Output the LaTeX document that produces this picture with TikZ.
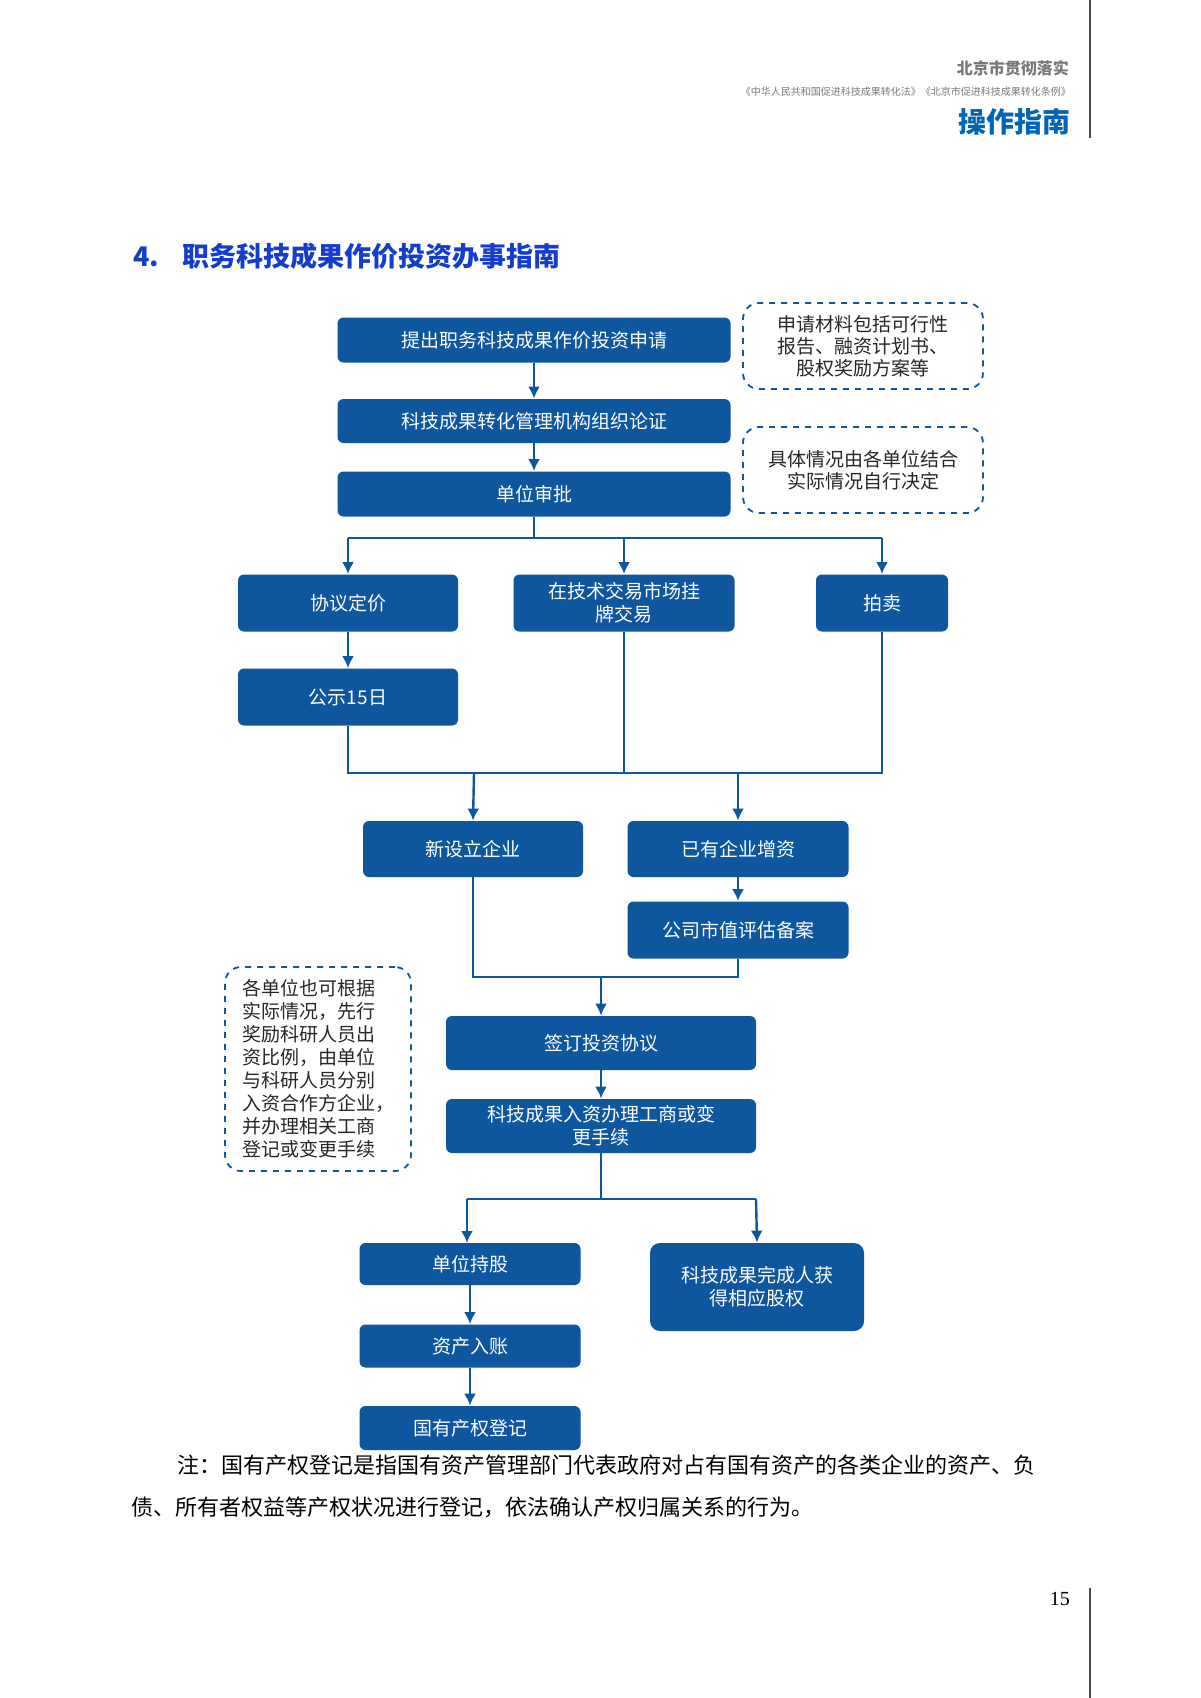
\documentclass[tikz,border=0pt]{standalone}
\usepackage{fontspec}
\setmainfont{Noto Sans CJK SC}
\newfontfamily\serifnum{Liberation Serif}
\usetikzlibrary{arrows.meta}
\definecolor{boxblue}{RGB}{14,86,158}
\definecolor{titleblue}{RGB}{20,60,205}
\definecolor{headblue}{RGB}{0,100,185}
\definecolor{headgrey}{RGB}{120,120,120}
\begin{document}
\begin{tikzpicture}[x=0.5pt,y=-0.5pt,
  bx/.style={fill=boxblue,draw=none,rounded corners=3pt,text=white,font=\fontsize{9.5}{11.5}\selectfont,align=center,inner sep=0pt},
  nt/.style={draw=boxblue,dashed,line width=0.9pt,rounded corners=8pt,font=\fontsize{9.5}{11}\selectfont,text=black!85,align=center,inner sep=0pt},
  ln/.style={draw=boxblue,line width=1.2pt},
  ar/.style={ln,-{Latex[length=6pt,width=6pt]}}]
\useasboundingbox (0,0) rectangle (1200,1698);
% header
\draw[black!70,line width=0.6pt] (1090,0) -- (1090,138);
\draw[black!70,line width=0.6pt] (1090,1588) -- (1090,1698);
\node[anchor=east,text=headgrey,font=\bfseries\fontsize{8}{9}\selectfont] (h1) at (1076,68) {北京市贯彻落实};
\node[anchor=east,text=headgrey,font=\fontsize{5}{6}\selectfont] (h2) at (1078,92) {《中华人民共和国促进科技成果转化法》《北京市促进科技成果转化条例》};
\node[anchor=east,text=headblue,font=\bfseries\fontsize{14}{16}\selectfont] (h3) at (1078,122) {操作指南};
\node[anchor=east,font=\serifnum\fontsize{10}{12}\selectfont] (pg) at (1077,1599) {15};
% title
\node[anchor=west,text=titleblue,font=\bfseries\fontsize{13.5}{16}\selectfont] (title) at (126,256) {4.\hspace{12pt}职务科技成果作价投资办事指南};
% boxes
\node[bx,minimum width=196.5pt,minimum height=22.5pt] (b1) at (534,340) {提出职务科技成果作价投资申请};
\node[bx,minimum width=196.5pt,minimum height=22pt] (b2) at (534,421) {科技成果转化管理机构组织论证};
\node[bx,minimum width=196.5pt,minimum height=22.5pt] (b3) at (534,494) {单位审批};
\node[nt,minimum width=120pt,minimum height=43pt] (n1) at (863,346) {申请材料包括可行性\\报告、融资计划书、\\股权奖励方案等};
\node[nt,minimum width=120pt,minimum height=43pt] (n2) at (863,470) {具体情况由各单位结合\\实际情况自行决定};
\node[bx,minimum width=110pt,minimum height=28.5pt] (c1) at (348,603) {协议定价};
\node[bx,minimum width=110.5pt,minimum height=28.5pt] (c2) at (624,603) {在技术交易市场挂\\牌交易};
\node[bx,minimum width=66pt,minimum height=28.5pt] (c3) at (882,603) {拍卖};
\node[bx,minimum width=110pt,minimum height=28.5pt] (c4) at (348,697) {公示15日};
\node[bx,minimum width=110pt,minimum height=28pt] (d1) at (473,849) {新设立企业};
\node[bx,minimum width=110.5pt,minimum height=28pt] (d2) at (738,849) {已有企业增资};
\node[bx,minimum width=110.5pt,minimum height=28.5pt] (d3) at (738,930) {公司市值评估备案};
\node[bx,minimum width=155pt,minimum height=27pt] (e1) at (601,1043) {签订投资协议};
\node[bx,minimum width=155pt,minimum height=27pt] (e2) at (601,1126) {科技成果入资办理工商或变\\更手续};
\node[nt,minimum width=93pt,minimum height=102pt,align=left,font=\fontsize{9.5}{11.5}\selectfont] (n3) at (318,1069) {各单位也可根据\\实际情况，先行\\奖励科研人员出\\资比例，由单位\\与科研人员分别\\入资合作方企业，\\并办理相关工商\\登记或变更手续};
\node[bx,minimum width=110.5pt,minimum height=21pt] (f1) at (470,1264) {单位持股};
\node[bx,minimum width=107pt,minimum height=44pt,rounded corners=5pt] (f2) at (757,1287) {科技成果完成人获\\得相应股权};
\node[bx,minimum width=110.5pt,minimum height=21.5pt] (f3) at (470,1346) {资产入账};
\node[bx,minimum width=110.5pt,minimum height=22pt] (f4) at (470,1428) {国有产权登记};
% note
\node[anchor=west,font=\fontsize{11}{13}\selectfont,inner sep=0pt] (t1) at (177,1465) {注：国有产权登记是指国有资产管理部门代表政府对占有国有资产的各类企业的资产、负};
\node[anchor=west,font=\fontsize{11}{13}\selectfont,inner sep=0pt] (t2) at (131,1507) {债、所有者权益等产权状况进行登记，依法确认产权归属关系的行为。};
% connectors
\draw[ar] (b1) -- (b2);
\draw[ar] (b2) -- (b3);
\coordinate (s0) at (534,538);
\draw[ln] (b3.south) -- (s0);
\draw[ln] (348,538) -- (882,538);
\draw[ar] (348,538) -- (c1.north);
\draw[ar] (624,538) -- (c2.north);
\draw[ar] (882,538) -- (c3.north);
\draw[ar] (c1) -- (c4);
\draw[ln] (c4.south) -- (348,773) -- (882,773) -- (c3.south);
\draw[ln] (c2.south) -- (624,773);
\draw[ar] (474,773) -- (d1.north);
\draw[ar] (738,773) -- (d2.north);
\draw[ar] (d2) -- (d3);
\draw[ln] (d1.south) -- (473,977) -- (738,977) -- (d3.south);
\draw[ar] (601,977) -- (e1.north);
\draw[ar] (e1) -- (e2);
\draw[ln] (e2.south) -- (601,1199);
\draw[ln] (467,1199) -- (756,1199);
\draw[ar] (467,1199) -- (467,1243);
\draw[ar] (756,1199) -- (f2.north);
\draw[ar] (f1) -- (f3);
\draw[ar] (f3) -- (f4);
\end{tikzpicture}
\end{document}
